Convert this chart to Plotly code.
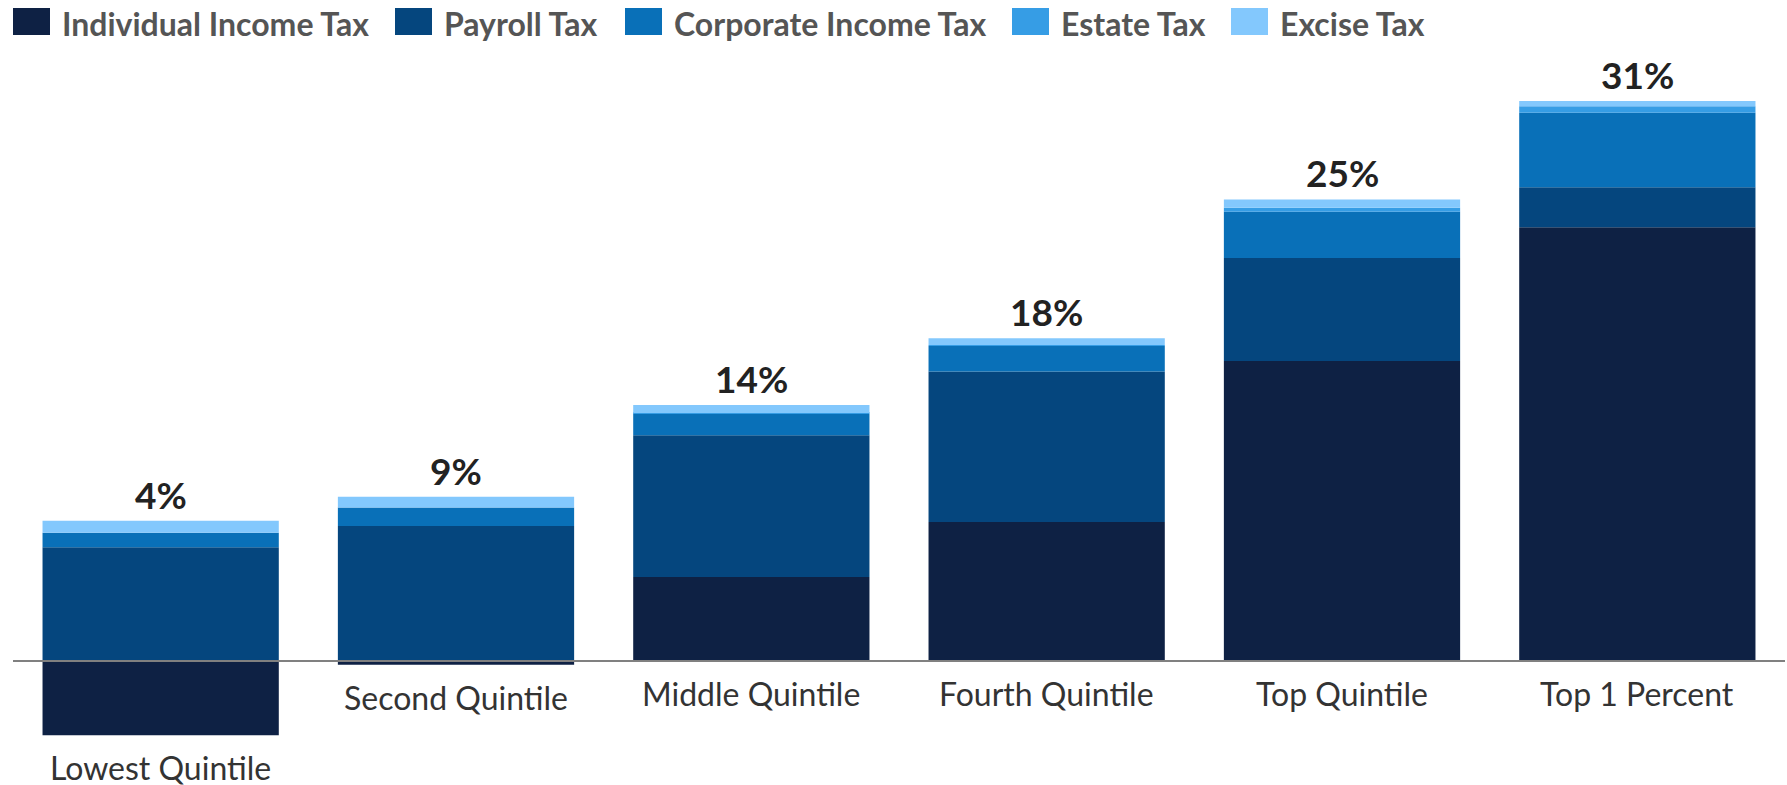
import plotly.graph_objects as go

categories = ["Lowest Quintile", "Second Quintile", "Middle Quintile",
              "Fourth Quintile", "Top Quintile", "Top 1 Percent"]
series_names = ["Individual Income Tax", "Payroll Tax", "Corporate Income Tax",
                "Estate Tax", "Excise Tax"]
individual = [-4.08, -0.20, 4.62, 7.64, 16.48, 23.83]
payroll = [6.25, 7.42, 7.79, 8.26, 5.66, 2.20]
corporate = [0.80, 1.01, 1.17, 1.41, 2.54, 4.10]
estate = [0.00, 0.00, 0.05, 0.05, 0.22, 0.35]
excise = [0.66, 0.60, 0.44, 0.37, 0.46, 0.29]
colors = ["#0e2144", "#05467e", "#0970b8", "#369de5", "#83c8fd"]

series = [individual, payroll, corporate, estate, excise]

W, H = 1787, 785
ML, MR, MT, MB = 13, 2, 60, 40
PX_PER_PCT = 18.2
BASE_Y = 661
y_top = (BASE_Y - MT) / PX_PER_PCT
y_bot = -((H - MB) - BASE_Y) / PX_PER_PCT

fig = go.Figure()
for name, vals, col in zip(series_names, series, colors):
    fig.add_trace(go.Bar(
        x=categories, y=vals, name=name,
        marker=dict(color=col, line=dict(width=0)),
        showlegend=False, hoverinfo="x+y+name",
    ))

annotations = []
shapes = []

# totals above bars and category labels below bars
for i, cat in enumerate(categories):
    vals = [s[i] for s in series]
    pos = sum(v for v in vals if v > 0)
    neg = sum(v for v in vals if v < 0)
    net = sum(vals)
    annotations.append(dict(
        x=cat, y=pos, xref="x", yref="y", text=f"{round(net):.0f}%",
        showarrow=False, yanchor="bottom", xanchor="center", yshift=2,
        font=dict(family="Lato", size=37, color="#222222", weight=700),
    ))
    annotations.append(dict(
        x=cat, y=min(0, neg), xref="x", yref="y", text=cat,
        showarrow=False, yanchor="top", xanchor="center", yshift=-11,
        font=dict(family="Lato", size=32, color="#333333"),
    ))

# custom legend
legend_swatch_x = [13, 395, 625, 1012, 1231]
for name, col, sx in zip(series_names, colors, legend_swatch_x):
    shapes.append(dict(
        type="rect", xref="paper", yref="paper",
        xsizemode="pixel", ysizemode="pixel",
        xanchor=0, yanchor=1,
        x0=sx - ML, x1=sx - ML + 37, y0=MT - 35, y1=MT - 8,
        fillcolor=col, line=dict(width=0), layer="above",
    ))
    annotations.append(dict(
        x=0, y=1, xref="paper", yref="paper", text=name,
        xshift=sx - ML + 47, yshift=MT - 23,
        showarrow=False, xanchor="left", yanchor="middle",
        font=dict(family="Lato", size=32, color="#555555", weight=700),
    ))

# baseline
shapes.append(dict(
    type="line", xref="paper", yref="y", x0=0, x1=1, y0=0, y1=0,
    line=dict(color="#808080", width=2), layer="above",
))

fig.update_layout(
    width=W, height=H, autosize=False,
    margin=dict(l=ML, r=MR, t=MT, b=MB, pad=0),
    barmode="relative", bargap=0.2,
    plot_bgcolor="white", paper_bgcolor="white",
    font=dict(family="Lato"),
    xaxis=dict(showticklabels=False, showgrid=False, zeroline=False,
               showline=False, ticks=""),
    yaxis=dict(range=[y_bot, y_top], showticklabels=False, showgrid=False,
               zeroline=False, showline=False, ticks=""),
    annotations=annotations, shapes=shapes,
)

fig.write_html("out.html", config={"displayModeBar": False},
               post_script="document.body.style.margin='0';document.body.style.overflow='hidden';")
